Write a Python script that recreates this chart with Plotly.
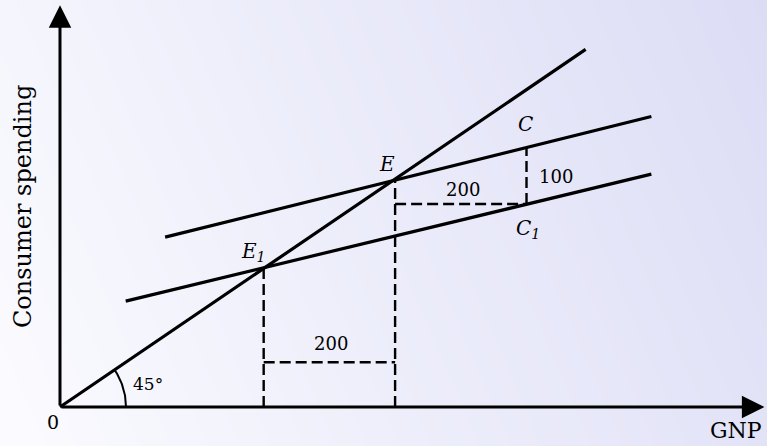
import numpy as np
import plotly.graph_objects as go

# schematic values (GNP on x, spending on y)
line45_x = [0, 800]
line45_y = [0, 800]
c_x = [160, 900]
c_y = [380, 650]
c1_x = [100, 900]
c1_y = [237, 521]

gnp_e1, gnp_e, gnp_c = 310, 510, 710
spend_c, spend_c1 = 580, 454
gap_y = 100  # height of the lower "200" bracket

x_range = [-91.3, 1076]
y_range = [-87.2, 910.5]
px_x = 0.657  # pixels per x unit
px_y = 0.447  # pixels per y unit

SERIF = "DejaVu Serif"
solid = dict(color="black", width=3.2)
dashed = dict(color="black", width=2.4, dash="11px,5px")

fig = go.Figure()

# soft lavender background gradient
gx = np.linspace(*x_range, 30)
gy = np.linspace(*y_range, 20)
xf = (gx - x_range[0]) / (x_range[1] - x_range[0])
yf = (gy - y_range[0]) / (y_range[1] - y_range[0])
gz = 0.8 * xf[None, :] + 0.2 * yf[:, None]
fig.add_trace(go.Heatmap(
    x=gx, y=gy, z=gz, zsmooth="best", showscale=False, hoverinfo="skip",
    colorscale=[[0, "#fbfbff"], [1, "#dcddf5"]], zmin=0, zmax=1,
))


def seg(xs, ys, line):
    fig.add_trace(go.Scatter(x=xs, y=ys, mode="lines", line=line,
                             showlegend=False, hoverinfo="skip"))


seg(line45_x, line45_y, solid)
seg(c_x, c_y, solid)
seg(c1_x, c1_y, solid)

# dashed guides
seg([gnp_e1, gnp_e1], [0, gnp_e1], dashed)
seg([gnp_e, gnp_e], [0, gnp_e], dashed)
seg([gnp_e1, gnp_e], [gap_y, gap_y], dashed)
seg([gnp_e, gnp_c], [spend_c1, spend_c1], dashed)
seg([gnp_c, gnp_c], [spend_c1, spend_c], dashed)

# 45 degree arc, drawn as a pixel circle
ang = np.linspace(0, np.arctan(px_y / px_x), 30)
r = 66
seg(r * np.cos(ang) / px_x, r * np.sin(ang) / px_y, dict(color="black", width=2))

# axes with arrowheads
for ax_tip in [(0, 899), (1072, 0)]:
    fig.add_annotation(x=ax_tip[0], y=ax_tip[1], ax=0, ay=0, xref="x", yref="y",
                       axref="x", ayref="y", text="", showarrow=True,
                       arrowhead=2, arrowsize=1.5, arrowwidth=3, arrowcolor="black")


def label(x, y, text, size=18, **kw):
    fig.add_annotation(x=x, y=y, xref="x", yref="y", text=text, showarrow=False,
                       font=dict(family=SERIF, size=size, color="black"), **kw)


def px2d(px, py):
    return (px - 60) / px_x, (407 - py) / px_y


label(*px2d(387, 164), "<i>E</i>", size=20)
label(*px2d(253, 252), "<i>E<sub>1</sub></i>", size=20)
label(*px2d(525, 124), "<i>C</i>", size=20)
label(*px2d(528, 229), "<i>C<sub>1</sub></i>", size=20)
label(*px2d(463, 189), "200", size=18)
label(*px2d(556, 176), "100", size=18)
label(*px2d(331, 343), "200", size=18)
label(*px2d(148, 384), "45°", size=17)
label(*px2d(53, 422), "0", size=19)
label(*px2d(736, 430), "GNP", size=22)
label(*px2d(23, 206), "Consumer spending", size=24, textangle=-90)

fig.update_layout(
    width=767, height=446,
    margin=dict(l=0, r=0, t=0, b=0),
    paper_bgcolor="white", plot_bgcolor="rgba(0,0,0,0)",
    xaxis=dict(range=x_range, visible=False, fixedrange=True),
    yaxis=dict(range=y_range, visible=False, fixedrange=True),
    showlegend=False,
)

fig.write_html("out.html", config={"displayModeBar": False},
               post_script="document.body.style.margin='0';")
